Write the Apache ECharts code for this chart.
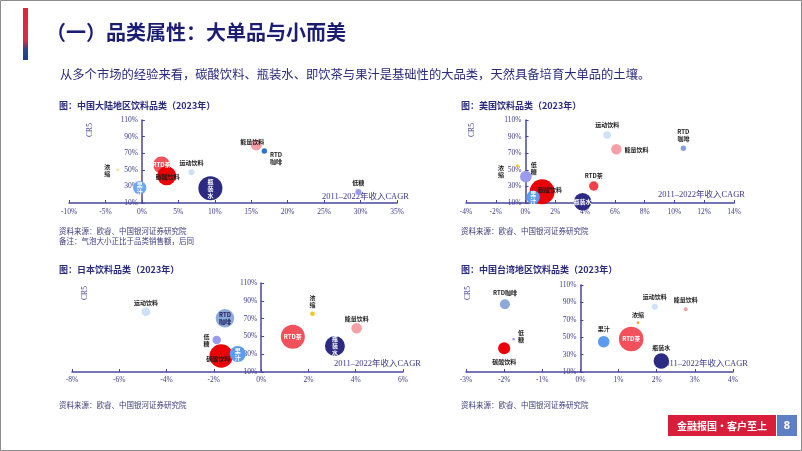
<!DOCTYPE html>
<html><head><meta charset="utf-8">
<script src="https://cdn.jsdelivr.net/npm/echarts@6/dist/echarts.min.js"></script>
<style>html,body{margin:0;padding:0;background:#fff;}#c{width:802px;height:451px;}</style>
</head><body><div id="c"></div>
<script>
// ---------------- DATA ----------------
// Chart 1: 中国大陆地区
const mainlandCats = ['浓缩','果汁','RTD茶','碳酸饮料','运动饮料','瓶装水','能量饮料','RTD咖啡','低糖'];
const mainlandCAGR = [-3.3,-0.3,2.7,3.4,6.8,9.4,15.7,16.8,29.7];
const mainlandCR5  = [50,28.4,55.8,42.9,47,27.7,79.9,72.7,23.3];
const mainlandSales= [2.3,45,72,90,9,144,30,7.3,9];
// Chart 2: 美国
const usCats = ['浓缩','低糖','碳酸饮料','果汁','瓶装水','RTD茶','运动饮料','能量饮料','RTD咖啡'];
const usCAGR = [-0.54,0.02,1.11,0.51,3.83,4.58,5.48,6.1,10.6];
const usCR5  = [54.9,41.7,23.6,16.9,11.6,30.5,91.9,74.7,75.9];
const usSales= [2.3,34,156,45,77,22,14.4,27,7.3];
// Chart 3: 日本
const jpCats = ['运动饮料','RTD咖啡','低糖','碳酸饮料','果汁','RTD茶','浓缩','瓶装水','能量饮料'];
const jpCAGR = [-4.87,-1.53,-1.88,-1.69,-0.99,1.34,2.17,3.12,4.04];
const jpCR5  = [77.8,70.3,46,28,30.2,49.7,75.5,39.2,59.1];
const jpSales= [20,85,18,137,64,144,5.3,100,28];
// Chart 4: 中国台湾地区
const twCats = ['RTD咖啡','低糖','碳酸饮料','果汁','RTD茶','浓缩','运动饮料','能量饮料','瓶装水'];
const twCAGR = [-1.98,-1.75,-2.0,0.61,1.33,1.51,1.95,2.76,2.12];
const twCR5  = [87.8,47.6,37.2,44.8,47.9,66.7,85,82,22.6];
const twSales= [25,1.7,36,34,151,1.7,9,4,59];
// axis ranges [min, max, step]
const xRanges = [[-10,35,5],[-4,14,2],[-8,6,2],[-3,4,1]];
const yRange = [10,110,20];
const chartTitles = ['图：中国大陆地区饮料品类（2023年）','图：美国饮料品类（2023年）','图：日本饮料品类（2023年）','图：中国台湾地区饮料品类（2023年）'];
const xAxisName = '2011–2022年收入CAGR';
const yAxisName = 'CR5';

// ---------------- STYLE ----------------
const NAVY = '#2a2a7e';
const AXIS = '#4a46a0';
const colors = {
  '浓缩':'#f5c518','果汁':'#5b9cf0','RTD茶':'#f2505a','碳酸饮料':'#ec0008','运动饮料':'#cfe1f4',
  '瓶装水':'#2d2a83','能量饮料':'#f4a0a6','RTD咖啡':'#8ea8d8','低糖':'#9a9aee'
};
const colorOverride = [
  {'浓缩':'#f3e7a0','果汁':'#6fa8f0','RTD咖啡':'#2f6fdc'},
  {'RTD咖啡':'#8aa0dc','RTD茶':'#f04048'},
  {},
  {'浓缩':'#f5a623'}
];
const W='#ffffff', B='#1a1a1a';
const labelCfg = [
  {
    '浓缩':{t:'浓\n缩',p:'left',d:6},
    '果汁':{t:'果\n汁',p:'inside',c:W},
    'RTD茶':{t:'RTD茶',p:'inside',c:W},
    '碳酸饮料':{t:'碳酸饮料',p:'inside',o:[1,1]},
    '运动饮料':{t:'运动饮料',p:'top',d:3},
    '瓶装水':{t:'瓶\n装\n水',p:'inside',c:W},
    '能量饮料':{t:'能量饮料',p:'inside',o:[-4,-3]},
    'RTD咖啡':{t:'RTD\n咖啡',p:'right',o:[0,7],d:3},
    '低糖':{t:'低糖',p:'top',d:3}
  },
  {
    '浓缩':{t:'浓\n缩',p:'left',d:6,o:[-6,5]},
    '低糖':{t:'低\n糖',p:'right',d:1,o:[-2,-8]},
    '碳酸饮料':{t:'碳酸饮料',p:'inside',o:[8,-2]},
    '果汁':{t:'果\n汁',p:'inside',c:W},
    '瓶装水':{t:'瓶装水',p:'inside',c:W},
    'RTD茶':{t:'RTD茶',p:'top',d:2},
    '运动饮料':{t:'运动饮料',p:'top',d:3},
    '能量饮料':{t:'能量饮料',p:'right',d:3},
    'RTD咖啡':{t:'RTD\n咖啡',p:'top',d:3}
  },
  {
    '运动饮料':{t:'运动饮料',p:'top',d:1},
    'RTD咖啡':{t:'RTD\n咖啡',p:'inside',c:'#1a1a5a'},
    '低糖':{t:'低\n糖',p:'left',d:3},
    '碳酸饮料':{t:'碳酸饮料',p:'inside',o:[-3,3]},
    '果汁':{t:'果\n汁',p:'inside',c:W},
    'RTD茶':{t:'RTD茶',p:'inside',c:W},
    '浓缩':{t:'浓\n缩',p:'top',d:3},
    '瓶装水':{t:'瓶\n装\n水',p:'inside',c:W},
    '能量饮料':{t:'能量饮料',p:'top',d:1}
  },
  {
    'RTD咖啡':{t:'RTD咖啡',p:'top',d:3},
    '低糖':{t:'低\n糖',p:'right',d:3,o:[0,-3]},
    '碳酸饮料':{t:'碳酸饮料',p:'bottom',d:4},
    '果汁':{t:'果汁',p:'top',d:4},
    'RTD茶':{t:'RTD茶',p:'inside',c:W},
    '浓缩':{t:'浓缩',p:'top',d:3},
    '运动饮料':{t:'运动饮料',p:'top',d:4},
    '能量饮料':{t:'能量饮料',p:'top',d:4},
    '瓶装水':{t:'瓶装水',p:'top',d:2}
  }
];
const grids = [
  {left:69, top:120, width:328, height:83},
  {left:466, top:120, width:268, height:83},
  {left:72, top:283, width:331, height:89},
  {left:466, top:285, width:267, height:87}
];
const titlePos = [[59,106],[461,106],[59,270],[461,270]];
const sourcePos = [[59,231],[461,231],[59,405],[461,405]];
const axisNamePos = [[409,197],[745,195],[421,364],[748,364]];
const cr5Pos = [[90,130],[472,130],[85,293],[468,293]];

const sets = [
  [mainlandCats, mainlandCAGR, mainlandCR5, mainlandSales],
  [usCats, usCAGR, usCR5, usSales],
  [jpCats, jpCAGR, jpCR5, jpSales],
  [twCats, twCAGR, twCR5, twSales]
];

const CJK = '"Noto Sans CJK SC", sans-serif';
const SERIF = '"Liberation Serif", "Noto Sans CJK SC", serif';

const xAxes = [], yAxes = [], series = [];
sets.forEach((s, i) => {
  const [cats, xs, ys, ss] = s;
  const xr = xRanges[i];
  // y axis crosses the x axis at 0: shift it from the grid's left edge by the scale position of 0
  const zeroShift = grids[i].width * (0 - xr[0]) / (xr[1] - xr[0]);
  xAxes.push({
    type:'value', gridIndex:i, min:xr[0], max:xr[1], interval:xr[2],
    axisLine:{show:true, onZero:false, lineStyle:{color:AXIS, width:1.5}},
    axisTick:{show:true, inside:true, length:3, lineStyle:{color:AXIS}},
    axisLabel:{formatter:v => v + '%', color:'#3c3c8c', fontSize:7.5, fontFamily:SERIF, margin:i<2?5:4},
    splitLine:{show:false}
  });
  yAxes.push({
    type:'value', gridIndex:i, min:yRange[0], max:yRange[1], interval:yRange[2],
    position:'left', offset:-zeroShift,
    axisLine:{show:true, onZero:false, lineStyle:{color:AXIS, width:1.5}},
    axisTick:{show:true, inside:true, length:3, lineStyle:{color:AXIS}},
    axisLabel:{formatter:v => v + '%', color:'#3c3c8c', fontSize:7.5, fontFamily:SERIF, margin:4},
    splitLine:{show:false}
  });
  const data = cats.map((c, k) => {
    const lc = labelCfg[i][c] || {t:c,p:'top'};
    return {
      name:c,
      value:[xs[k], ys[k], ss[k]],
      itemStyle:{color:(colorOverride[i][c] || colors[c])},
      label:{show:true, formatter:lc.t, position:lc.p, distance:lc.d==null?3:lc.d,
        offset:lc.o||[0,0], color:lc.c||B, fontSize:6, lineHeight:7, fontWeight:'bold', fontFamily:CJK}
    };
  });
  series.push({
    type:'scatter', xAxisIndex:i, yAxisIndex:i, data:data,
    symbolSize: v => 2*Math.sqrt(v[2]),
    emphasis:{disabled:true},
    itemStyle:{opacity:1}
  });
});

const graphics = [
  {type:'rect', shape:{x:0.5,y:0.5,width:801,height:450}, style:{fill:'none', stroke:'#8c8c8c', lineWidth:1}},
  {type:'rect', shape:{x:23,y:8,width:5,height:52}, style:{fill:new echarts.graphic.LinearGradient(0,0,0,1,[
    {offset:0,color:'#e0243e'},{offset:0.62,color:'#d92a48'},{offset:0.8,color:'#27468f'},{offset:1,color:'#1e4087'}])}},
  {type:'text', x:46, y:32, style:{text:'（一）品类属性：大单品与小而美', font:'bold 20px "Noto Sans CJK SC"', fill:'#1c1c73', verticalAlign:'middle'}},
  {type:'text', x:60, y:74, style:{text:'从多个市场的经验来看，碳酸饮料、瓶装水、即饮茶与果汁是基础性的大品类，天然具备培育大单品的土壤。', font:'12.3px "Noto Sans CJK SC"', fill:NAVY, verticalAlign:'middle'}},
  {type:'rect', shape:{x:668,y:415,width:108,height:21}, style:{fill:'#d81e3a'}},
  {type:'rect', shape:{x:777,y:415,width:20,height:21}, style:{fill:'#5f7fc4'}},
  {type:'text', x:722, y:426, style:{text:'金融报国·客户至上', font:'bold 10px "Noto Sans CJK SC"', fill:'#fff', align:'center', verticalAlign:'middle'}},
  {type:'text', x:787, y:426, style:{text:'8', font:'bold 11px "Noto Sans", sans-serif', fill:'#fff', align:'center', verticalAlign:'middle'}}
];
for (let i = 0; i < 4; i++) {
  graphics.push({type:'text', x:titlePos[i][0], y:titlePos[i][1], style:{text:chartTitles[i], font:'bold 9px "Noto Sans CJK SC"', fill:NAVY, verticalAlign:'middle'}});
  graphics.push({type:'text', x:sourcePos[i][0], y:sourcePos[i][1], style:{text:'资料来源：欧睿、中国银河证券研究院', font:'7.5px "Noto Sans CJK SC"', fill:'#3a3a7a', verticalAlign:'middle'}});
  graphics.push({type:'text', x:axisNamePos[i][0], y:axisNamePos[i][1], style:{text:xAxisName, font:'8.5px ' + SERIF, fill:'#3a3a8c', align:'right', verticalAlign:'middle'}});
  graphics.push({type:'text', x:cr5Pos[i][0], y:cr5Pos[i][1], rotation:Math.PI/2, style:{text:yAxisName, font:'7.5px ' + SERIF, fill:'#3a3a8c', align:'center', verticalAlign:'middle'}});
}
graphics.push({type:'text', x:59, y:241, style:{text:'备注：气泡大小正比于品类销售额，后同', font:'7.5px "Noto Sans CJK SC"', fill:'#3a3a7a', verticalAlign:'middle'}});

const chart = echarts.init(document.getElementById('c'), null, {renderer:'canvas'});
chart.setOption({
  animation:false,
  backgroundColor:'#ffffff',
  grid:grids.map(g => Object.assign({containLabel:false}, g)),
  xAxis:xAxes, yAxis:yAxes, series:series,
  graphic:graphics
});
</script>
</body></html>
